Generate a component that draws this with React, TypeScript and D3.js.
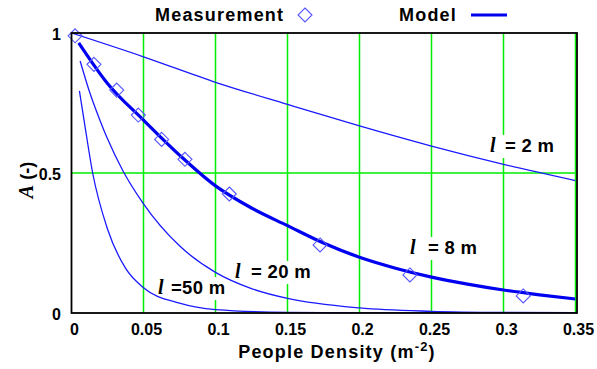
import React from 'react';
import * as d3 from 'd3';

// measured points (people density, A)
const measDensity = [0.0025, 0.0156, 0.0314, 0.0464, 0.0626, 0.0788, 0.1096, 0.1726, 0.235, 0.3137];
const measA = [0.99, 0.888, 0.796, 0.707, 0.62, 0.549, 0.425, 0.243, 0.136, 0.061];

// model curves
const l2Density = [0, 0.05, 0.1, 0.15, 0.2, 0.25, 0.3, 0.35];
const l2A = [1.0, 0.915, 0.824, 0.745, 0.668, 0.596, 0.531, 0.473];

const l8Density = [0.005, 0.025, 0.05, 0.075, 0.1, 0.125, 0.15, 0.175, 0.2, 0.225, 0.25, 0.275, 0.3, 0.325, 0.35];
const l8A = [0.965, 0.82, 0.689, 0.564, 0.454, 0.375, 0.312, 0.25, 0.199, 0.16, 0.128, 0.103, 0.082, 0.065, 0.05];

const l20Density = [0.006, 0.0125, 0.02, 0.025, 0.0355, 0.05, 0.075, 0.1, 0.125, 0.15, 0.2, 0.25, 0.3, 0.35];
const l20A = [0.9, 0.79, 0.685, 0.622, 0.51, 0.39, 0.24, 0.145, 0.087, 0.052, 0.018, 0.006, 0.002, 0.001];

const l50Density = [0.0055, 0.0087, 0.0147, 0.025, 0.0375, 0.05, 0.075, 0.1, 0.15, 0.2, 0.25, 0.3, 0.35];
const l50A = [0.793, 0.689, 0.5, 0.3, 0.16, 0.09, 0.035, 0.012, 0.002, 0, 0, 0, 0];

const xTicks = [0, 0.05, 0.1, 0.15, 0.2, 0.25, 0.3, 0.35];
const xTickLabels = ['0', '0.05', '0.1', '0.15', '0.2', '0.25', '0.3', '0.35'];
const yTicks = [0, 0.5, 1];
const yTickLabels = ['0', '0.5', '1'];

const curveLabels = [
  { text: '= 2 m', lx: 490, tx: 505, y: 152 },
  { text: '= 8 m', lx: 410, tx: 428, y: 254 },
  { text: '= 20 m', lx: 235, tx: 251, y: 278 },
  { text: '=50 m', lx: 158, tx: 171, y: 294 },
];

const W = 597;
const H = 369;
const SANS = 'Liberation Sans, Arial, sans-serif';
const SERIF = 'Liberation Serif, Times New Roman, serif';

function drawChart(el: SVGSVGElement) {
  const svg = d3.select(el);
  svg.selectAll('*').remove();

  const x = d3.scaleLinear([0, 0.35], [71.5, 575.5]);
  const y = d3.scaleLinear([0, 1], [313, 33]);

  svg.append('rect').attr('width', W).attr('height', H).attr('fill', 'white');

  svg
    .append('clipPath')
    .attr('id', 'plot-clip')
    .append('rect')
    .attr('x', x(0))
    .attr('y', y(1))
    .attr('width', x(0.35) - x(0))
    .attr('height', y(0) - y(1));

  // green grid
  const grid = svg.append('g').attr('stroke', '#00ee00').attr('stroke-width', 1.5);
  grid
    .selectAll('line.v')
    .data(xTicks.slice(1))
    .enter()
    .append('line')
    .attr('x1', (d) => x(d))
    .attr('x2', (d) => x(d))
    .attr('y1', y(1))
    .attr('y2', y(0));
  grid
    .append('line')
    .attr('x1', x(0))
    .attr('x2', x(0.35))
    .attr('y1', y(0.5))
    .attr('y2', y(0.5));

  // the curve labels sit on white boxes that break the grid
  svg
    .append('g')
    .selectAll('rect')
    .data(curveLabels)
    .enter()
    .append('rect')
    .attr('x', (d) => d.lx - 2)
    .attr('y', (d) => d.y - 17)
    .attr('width', (d) => d.tx - d.lx + d.text.length * 10.5 + 4)
    .attr('height', 23)
    .attr('fill', 'white');

  const plot = svg.append('g').attr('clip-path', 'url(#plot-clip)');
  const line = d3
    .line<[number, number]>()
    .x((d) => x(d[0]))
    .y((d) => y(d[1]))
    .curve(d3.curveMonotoneX);

  const thin = [
    [l2Density, l2A],
    [l20Density, l20A],
    [l50Density, l50A],
  ];
  thin.forEach(([xs, ys]) => {
    plot
      .append('path')
      .attr('d', line(xs.map((v, i) => [v, ys[i]] as [number, number])))
      .attr('fill', 'none')
      .attr('stroke', '#1a1aff')
      .attr('stroke-width', 1.3);
  });

  plot
    .append('path')
    .attr('d', line(l8Density.map((v, i) => [v, l8A[i]] as [number, number])))
    .attr('fill', 'none')
    .attr('stroke', '#0000f0')
    .attr('stroke-width', 3.2);

  // measurement diamonds
  const diamond = (cx: number, cy: number, r: number) =>
    `M${cx},${cy - r}L${cx + r},${cy}L${cx},${cy + r}L${cx - r},${cy}Z`;
  svg
    .append('g')
    .selectAll('path')
    .data(measDensity)
    .enter()
    .append('path')
    .attr('d', (d, i) => diamond(x(d), y(measA[i]), 7))
    .attr('fill', 'none')
    .attr('stroke', '#5555ff')
    .attr('stroke-width', 1.1);

  // frame
  svg
    .append('rect')
    .attr('x', x(0))
    .attr('y', y(1))
    .attr('width', x(0.35) - x(0) + 1.5)
    .attr('height', y(0) - y(1))
    .attr('fill', 'none')
    .attr('stroke', 'black')
    .attr('stroke-width', 1.8);

  // tick labels
  svg
    .append('g')
    .selectAll('text')
    .data(xTicks)
    .enter()
    .append('text')
    .attr('x', (d) => x(d) + 3)
    .attr('y', 335)
    .attr('text-anchor', 'middle')
    .attr('font-family', SANS)
    .attr('font-weight', 'bold')
    .attr('font-size', 16)
    .text((d, i) => xTickLabels[i]);

  svg
    .append('g')
    .selectAll('text')
    .data(yTicks)
    .enter()
    .append('text')
    .attr('x', 61)
    .attr('y', (d) => y(d) + 7)
    .attr('text-anchor', 'end')
    .attr('font-family', SANS)
    .attr('font-weight', 'bold')
    .attr('font-size', 16)
    .text((d, i) => yTickLabels[i]);

  // axis titles
  const xt = svg
    .append('text')
    .attr('x', 337)
    .attr('y', 358)
    .attr('text-anchor', 'middle')
    .attr('font-family', SANS)
    .attr('font-weight', 'bold')
    .attr('font-size', 18)
    .attr('letter-spacing', 1.2);
  xt.append('tspan').text('People Density (m');
  xt.append('tspan').attr('dy', -7).attr('font-size', 13).text('-2');
  xt.append('tspan').attr('dy', 7).text(')');

  const yt = svg
    .append('text')
    .attr('transform', 'translate(33,180) rotate(-90)')
    .attr('text-anchor', 'middle')
    .attr('font-family', SANS)
    .attr('font-weight', 'bold')
    .attr('font-size', 18);
  yt.append('tspan').attr('font-style', 'italic').attr('font-family', SERIF).attr('font-size', 20).text('A');
  yt.append('tspan').text(' (-)');

  // legend
  svg
    .append('text')
    .attr('x', 155)
    .attr('y', 21)
    .attr('font-family', SANS)
    .attr('font-weight', 'bold')
    .attr('font-size', 18)
    .attr('letter-spacing', 1.2)
    .text('Measurement');
  svg
    .append('path')
    .attr('d', diamond(305, 15, 7))
    .attr('fill', 'none')
    .attr('stroke', '#5555ff')
    .attr('stroke-width', 1.1);
  svg
    .append('text')
    .attr('x', 399)
    .attr('y', 21)
    .attr('font-family', SANS)
    .attr('font-weight', 'bold')
    .attr('font-size', 18)
    .attr('letter-spacing', 1.2)
    .text('Model');
  svg
    .append('line')
    .attr('x1', 471)
    .attr('x2', 507)
    .attr('y1', 15)
    .attr('y2', 15)
    .attr('stroke', '#0000f0')
    .attr('stroke-width', 3);

  // curve labels
  const lbl = svg.append('g');
  curveLabels.forEach((c) => {
    lbl
      .append('text')
      .attr('x', c.lx)
      .attr('y', c.y)
      .attr('font-family', SERIF)
      .attr('font-style', 'italic')
      .attr('font-weight', 'bold')
      .attr('font-size', 20)
      .text('l');
    lbl
      .append('text')
      .attr('x', c.tx)
      .attr('y', c.y)
      .attr('font-family', SANS)
      .attr('font-weight', 'bold')
      .attr('font-size', 18.5)
      .attr('letter-spacing', 0.3)
      .attr('xml:space', 'preserve')
      .text(c.text);
  });
}

export default function App() {
  const ref = React.useRef<SVGSVGElement>(null);
  React.useEffect(() => {
    if (ref.current) drawChart(ref.current);
  }, []);

  return (
    <svg
      ref={ref}
      width={W}
      height={H}
      style={{ position: 'absolute', left: 0, top: 0, display: 'block' }}
    />
  );
}
